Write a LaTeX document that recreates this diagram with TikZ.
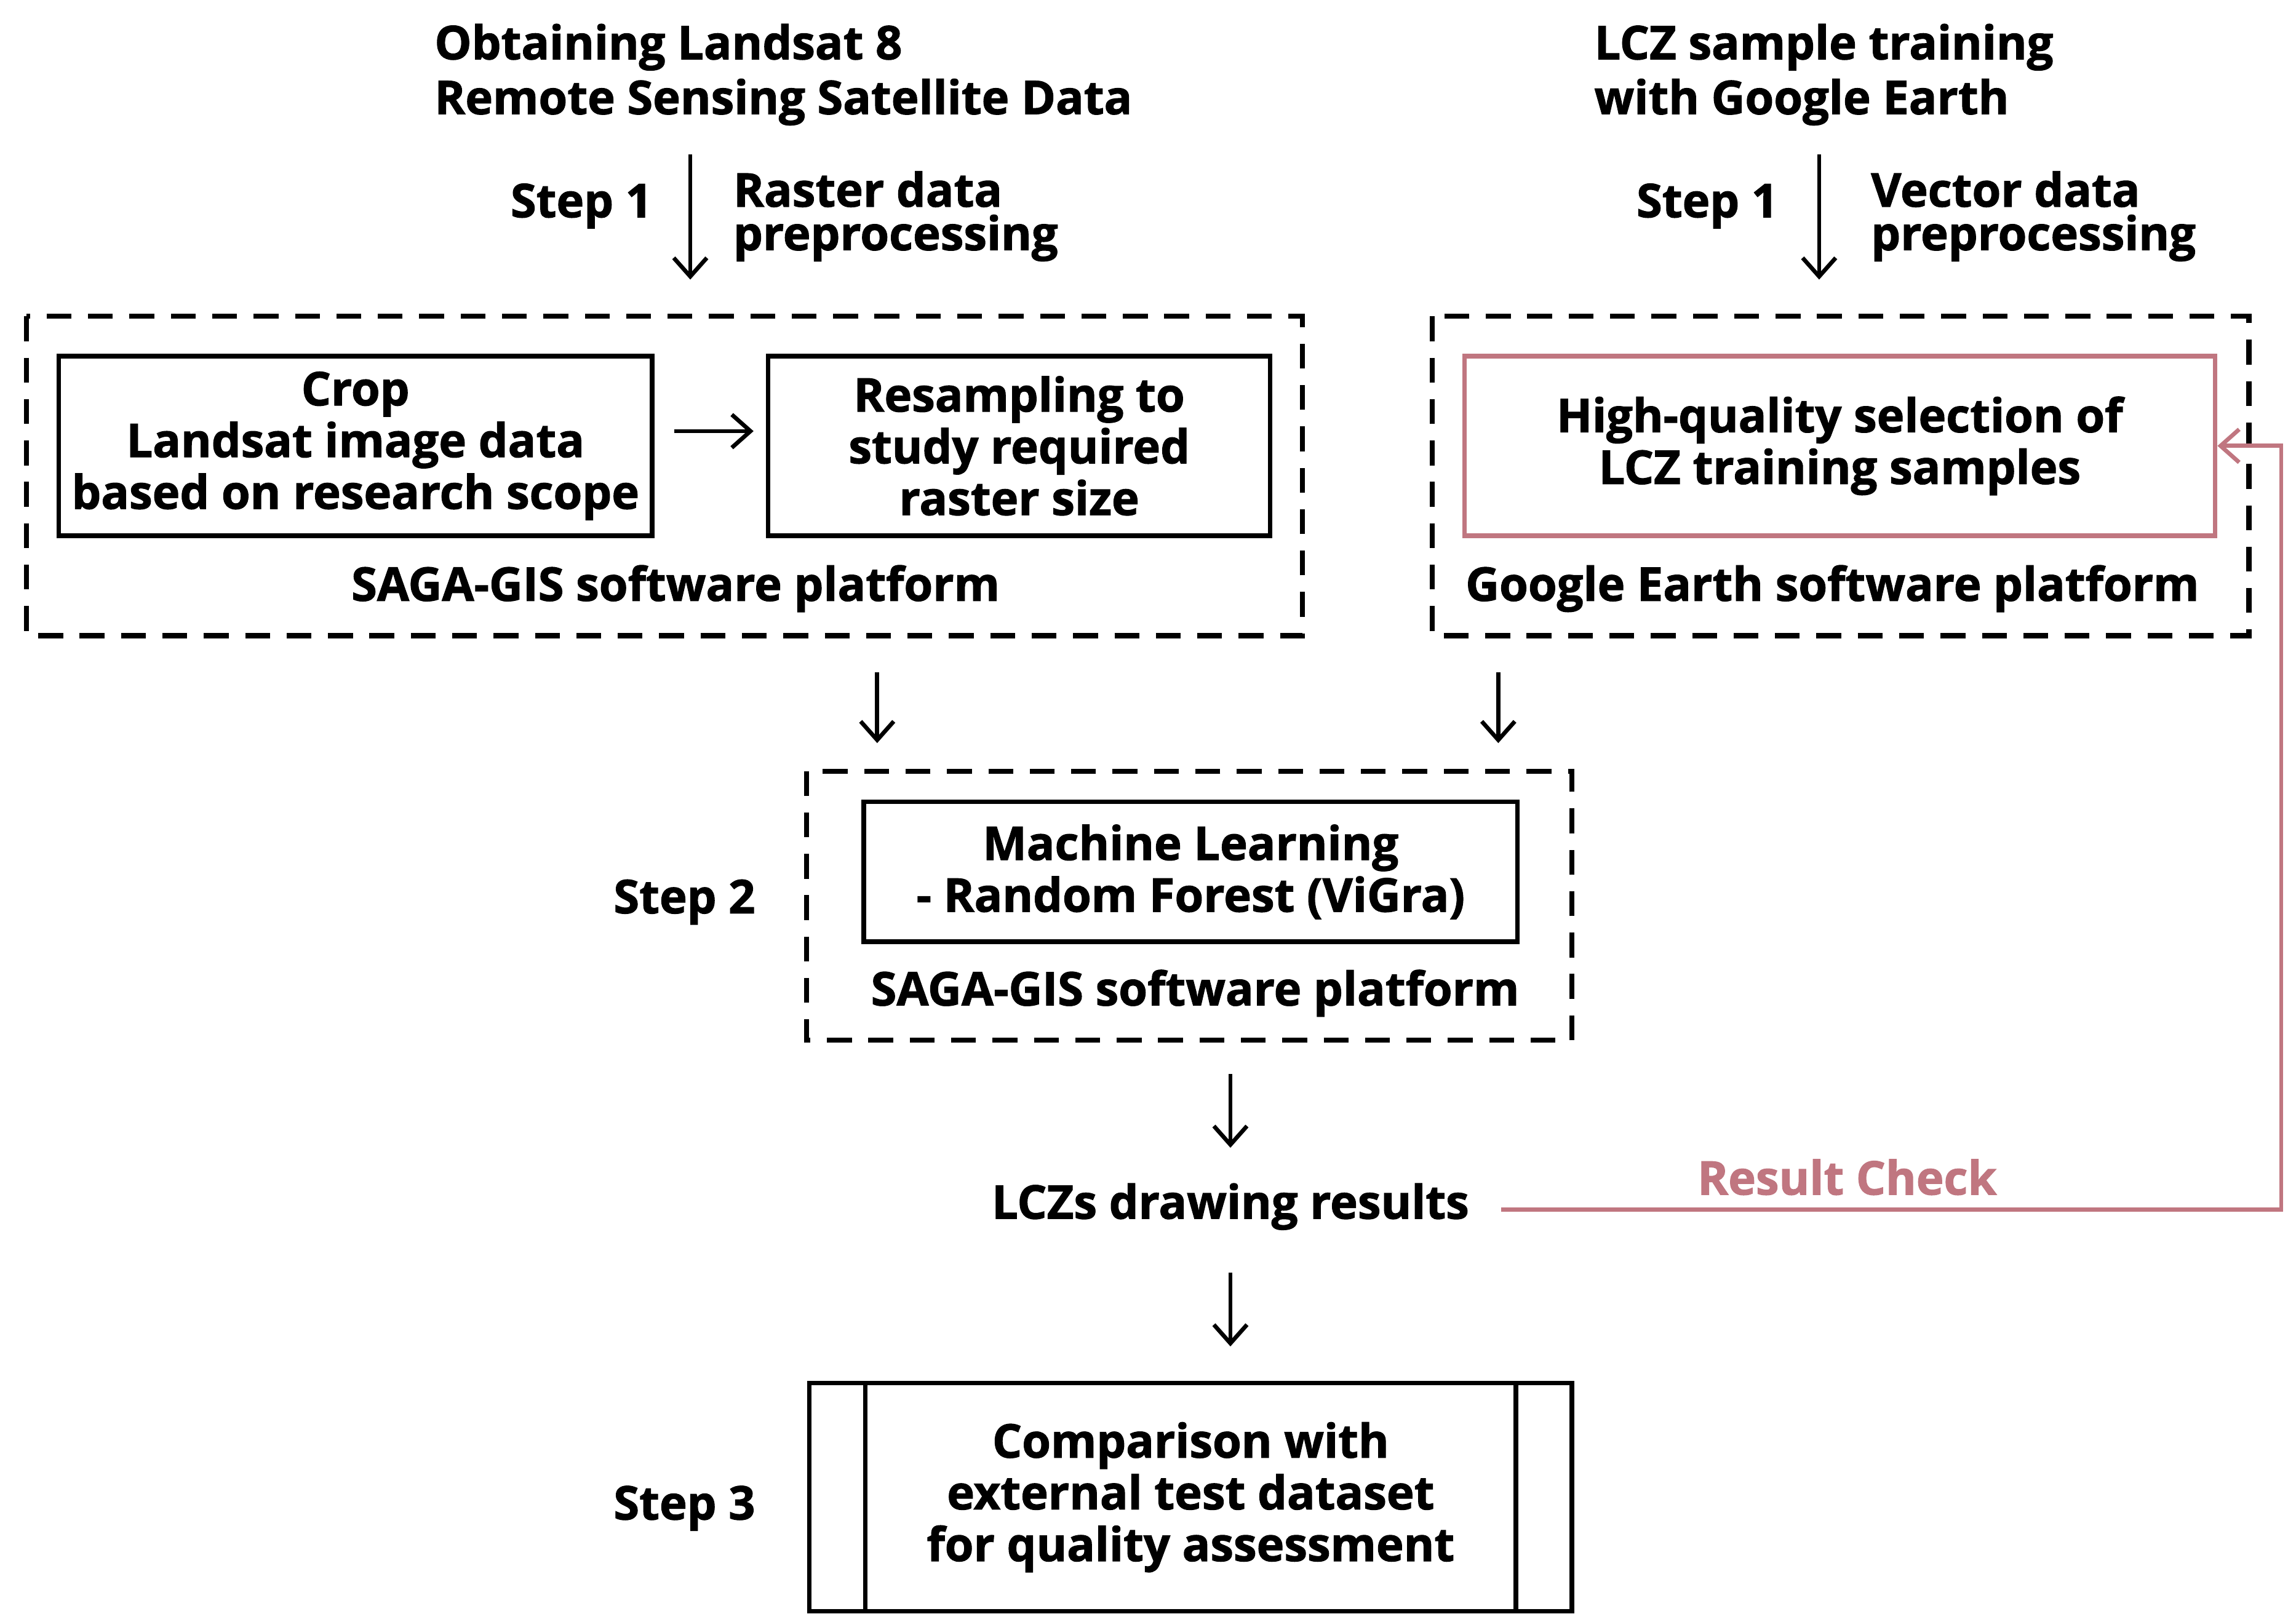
\documentclass[tikz,border=0pt]{standalone}
\usepackage{fontspec}
\setmainfont{Open Sans}[FakeBold=1.5]
\usetikzlibrary{arrows.meta}
\definecolor{pink}{RGB}{192,118,128}
\begin{document}
\begin{tikzpicture}[x=0.025cm,y=-0.025cm,
  every node/.style={font=\fontsize{22.5}{25}\selectfont\bfseries, inner sep=0pt},
  box/.style={draw, line width=2.2pt},
  dbox/.style={draw, line width=2.4pt, dash pattern=on 12pt off 8pt},
  arr/.style={line width=2pt, -{Straight Barb[length=9pt,width=16pt]}},
  lbl/.style={align=left, anchor=west},
  ctr/.style={align=center}]
\useasboundingbox (0,0) rectangle (1560,1102);
% left top
\node[lbl, anchor=north west, font=\fontsize{22.5}{26.5}\selectfont\bfseries] (t1) at (295,16) {Obtaining Landsat 8\\Remote Sensing Satellite Data};
\draw[arr] (469,105) -- (469,190);
\node (s1a) at (395,140) {Step 1};
\node[lbl, font=\fontsize{22.5}{21}\selectfont\bfseries] (rd) at (498,147) {Raster data\\preprocessing};
\draw[dbox] (18,215) rectangle (885,432);
\node[box, minimum width=10.075cm, minimum height=3.05cm, ctr] (crop) at (241.5,303) {Crop\\Landsat image data\\based on research scope};
\node[box, minimum width=8.525cm, minimum height=3.05cm, ctr] (res) at (692.5,303) {Resampling to\\study required\\raster size};
\draw[arr] (458,293) -- (512,293);
\node (sg1) at (459,400) {SAGA-GIS software platform};
% right top
\node[lbl, anchor=north west, font=\fontsize{22.5}{26.5}\selectfont\bfseries] (t2) at (1083,16) {LCZ sample training\\with Google Earth};
\draw[arr] (1236,105) -- (1236,190);
\node (s1b) at (1160,140) {Step 1};
\node[lbl, font=\fontsize{22.5}{21}\selectfont\bfseries] (vd) at (1271,147) {Vector data\\preprocessing};
\draw[dbox] (973,215) rectangle (1528,432);
\node[draw=pink, line width=2.2pt, minimum width=12.75cm, minimum height=3.05cm, ctr] (hq) at (1250,303) {High-quality selection of\\LCZ training samples};
\node (ge) at (1245,400) {Google Earth software platform};
% middle
\draw[arr] (596,457) -- (596,505);
\draw[arr] (1018,457) -- (1018,505);
\draw[dbox] (548,524) rectangle (1068,707);
\node[box, minimum width=11.1cm, minimum height=2.375cm, ctr] (ml) at (809,592.5) {Machine Learning\\- Random Forest (ViGra)};
\node (sg2) at (812,675) {SAGA-GIS software platform};
\node (s2) at (465,613) {Step 2};
\draw[arr] (836,730) -- (836,780);
\node (lcz) at (836,820) {LCZs drawing results};
\coordinate (c1) at (1550,822);
\coordinate (c0) at (1020,822);
\draw[pink, line width=2pt, -{Straight Barb[length=9pt,width=16pt]}] (c0) -- (c1) |- (hq.east);
\node[text=pink] (rc) at (1255,800) {Result Check};
\draw[arr] (836,865) -- (836,915);
% bottom
\node[box, minimum width=12.95cm, minimum height=3.875cm, ctr] (cmp) at (809,1017.5) {Comparison with\\external test dataset\\for quality assessment};
\draw[line width=2.2pt] (588,940) -- (588,1095) (1030,940) -- (1030,1095);
\node (s3) at (465,1025) {Step 3};
\end{tikzpicture}
\end{document}
